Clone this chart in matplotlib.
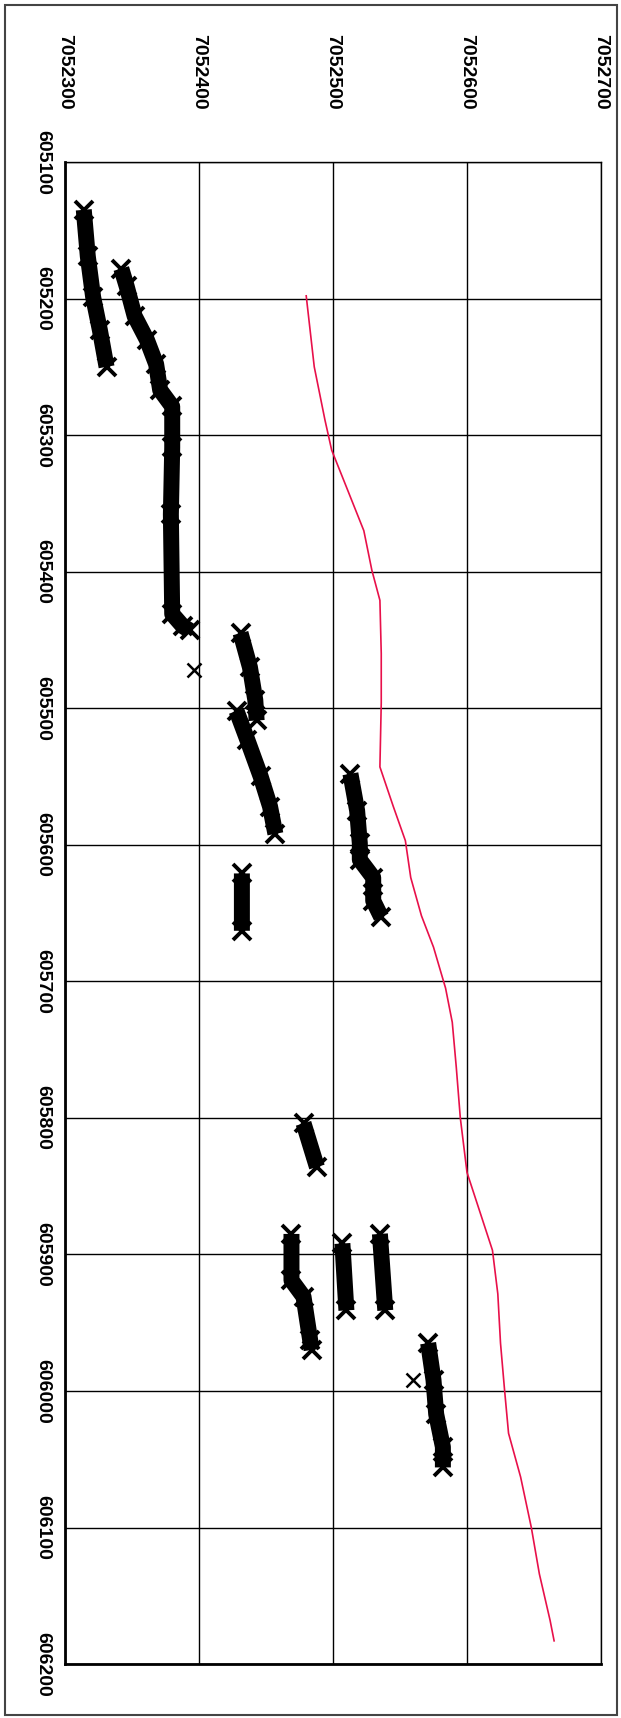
import numpy as np
import matplotlib
matplotlib.use("Agg")
import matplotlib.pyplot as plt
from matplotlib.patches import Rectangle

# easting along the page (top axis), northing down the page (left axis)
xticks = [7052300, 7052400, 7052500, 7052600, 7052700]
yticks = [605100, 605200, 605300, 605400, 605500, 605600,
          605700, 605800, 605900, 606000, 606100, 606200]

# red track
red_v = [7052480, 7052486, 7052494, 7052499, 7052510, 7052523, 7052529, 7052535,
         7052536, 7052536, 7052535, 7052545, 7052554, 7052558, 7052566,
         7052575, 7052584, 7052589, 7052592, 7052595, 7052600, 7052610,
         7052619, 7052623, 7052625, 7052628, 7052631, 7052640, 7052648,
         7052654, 7052662, 7052665]
red_n = [605198, 605250, 605289, 605311, 605338, 605370, 605399, 605421,
         605460, 605496, 605543, 605572, 605597, 605624, 605652,
         605675, 605705, 605730, 605763, 605800, 605840, 605870,
         605897, 605929, 605965, 605999, 606031, 606063, 606100,
         606134, 606168, 606183]

# black x-marker bands, nan separates the runs
blk_v = [7052314, 7052317, 7052321, 7052326, 7052331, np.nan,
         7052342, 7052346, 7052352, 7052361, 7052368, 7052371, 7052380,
         7052380, 7052379, 7052380, 7052388, 7052393, np.nan,
         7052431, 7052438, 7052442, 7052443, np.nan,
         7052428, 7052436, 7052446, 7052453, 7052457, np.nan,
         7052432, 7052432, np.nan,
         7052513, 7052518, 7052520, 7052520, 7052530, 7052530, 7052536, np.nan,
         7052478, 7052488, np.nan,
         7052469, 7052469, 7052478, 7052483, 7052484, np.nan,
         7052507, 7052510, np.nan,
         7052535, 7052539, np.nan,
         7052571, 7052575, 7052577, 7052582, 7052582]
blk_n = [605135, 605169, 605199, 605223, 605250, np.nan,
         605178, 605191, 605213, 605230, 605248, 605267, 605279,
         605309, 605358, 605431, 605440, 605443, np.nan,
         605445, 605470, 605494, 605509, np.nan,
         605502, 605523, 605550, 605572, 605592, np.nan,
         605621, 605663, np.nan,
         605548, 605575, 605599, 605611, 605624, 605641, 605653, np.nan,
         605804, 605836, np.nan,
         605885, 605919, 605931, 605963, 605970, np.nan,
         605892, 605941, np.nan,
         605885, 605941, np.nan,
         605965, 605992, 606017, 606041, 606056]

# stray points
odd_v = [7052396, 7052560]
odd_n = [605472, 605992]

fig = plt.figure(figsize=(6.21, 17.18), dpi=100)
ax = fig.add_axes([0.1047, 0.0314, 0.8631, 0.8743])

ax.plot(blk_v, blk_n, color="black", lw=11.5, solid_capstyle="butt",
        solid_joinstyle="round", zorder=3)
ax.plot(blk_v, blk_n, ls="none", marker="x", ms=13, mew=2.8, color="black", zorder=3)
ax.plot(odd_v, odd_n, ls="none", marker="x", ms=10, mew=1.8, color="black", zorder=3)
ax.plot(red_v, red_n, color="#e8104a", lw=1.2, zorder=4)

ax.set_xlim(7052300, 7052700)
ax.set_ylim(606200, 605100)
ax.set_xticks(xticks)
ax.set_yticks(yticks)
ax.xaxis.tick_top()
ax.tick_params(length=0)
ax.tick_params(axis="x", pad=38)
ax.tick_params(axis="y", pad=10)
ax.set_xticklabels([str(t) for t in xticks], rotation=-90, ha="center", va="bottom",
                   fontsize=14, fontweight="bold", family="Liberation Sans")
ax.set_yticklabels([str(t) for t in yticks], rotation=-90, ha="right", va="center",
                   fontsize=14, fontweight="bold", family="Liberation Sans")
ax.grid(True, color="black", lw=1.0)
ax.set_axisbelow(True)
for s in ["top", "right"]:
    ax.spines[s].set_linewidth(1.0)
for s in ["left", "bottom"]:
    ax.spines[s].set_linewidth(2.0)

fig.patches.append(Rectangle((0.008, 0.002), 0.985, 0.995, transform=fig.transFigure,
                             fill=False, edgecolor="#444444", lw=1.5))

fig.savefig("out.png", dpi=100)
